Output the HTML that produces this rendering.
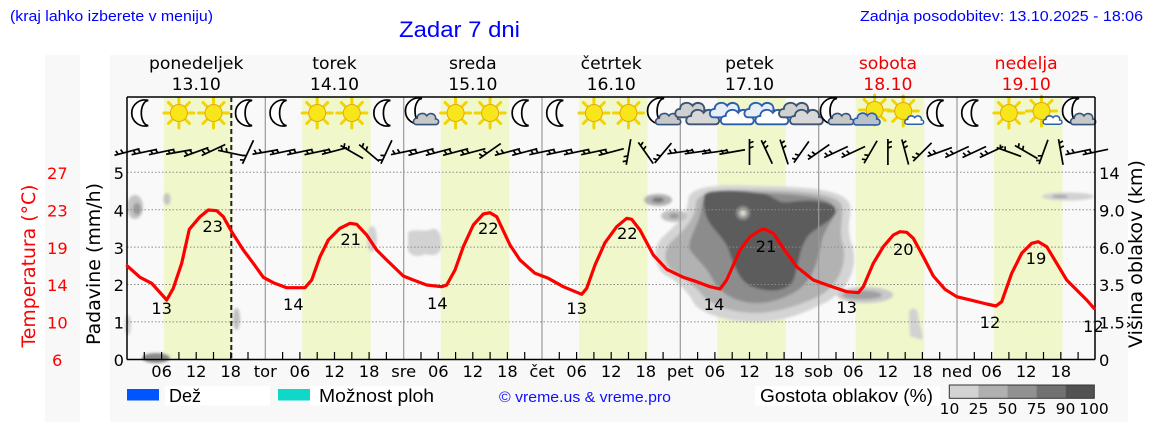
<!DOCTYPE html>
<html><head><meta charset="utf-8"><style>
html,body{margin:0;padding:0;background:#fff;}
svg{display:block;}
.d{font-family:"DejaVu Sans","Liberation Sans",sans-serif;}
.l{font-family:"Liberation Sans","DejaVu Sans",sans-serif;}
</style></head><body>
<svg width="1152" height="443" viewBox="0 0 1152 443" xmlns="http://www.w3.org/2000/svg">
<defs>
<filter id="bl" x="-20%" y="-20%" width="140%" height="140%"><feGaussianBlur stdDeviation="1.4"/></filter>
<path id="b" d="M-13 0H13M-9 0l-1.5 -4M-4 0l-1.5 -4" stroke="#000" stroke-width="1.7" fill="none"/>
<path id="moon" d="M4,-12.5 A13,13 0 1 0 4,12.5 A7,12.5 0 0 1 4,-12.5 Z" fill="#fff" stroke="#000" stroke-width="1.7"/>
<g id="sun"><g stroke="#f2d400" stroke-width="3" stroke-linecap="round">
<line x1="0" y1="-10" x2="0" y2="-15"/><line x1="0" y1="10" x2="0" y2="15"/><line x1="-10" y1="0" x2="-15" y2="0"/><line x1="10" y1="0" x2="15" y2="0"/>
<line x1="7" y1="7" x2="10.5" y2="10.5"/><line x1="-7" y1="7" x2="-10.5" y2="10.5"/><line x1="7" y1="-7" x2="10.5" y2="-10.5"/><line x1="-7" y1="-7" x2="-10.5" y2="-10.5"/></g>
<circle r="8.5" fill="#f7e61a" stroke="#e8a800" stroke-width="1"/></g>
<path id="cl" d="M-12,7 C-17,7 -17,-1 -11,-1 C-11,-7 -3,-9 1,-4 C4,-9 13,-7 12,0 C17,0 17,7 12,7 Z"/>
<g id="moonc"><use href="#moon" transform="translate(-3,-2)"/><use href="#cl" transform="translate(5,6) scale(0.8)" fill="#c8c8c8" stroke="#34527a" stroke-width="2"/></g>
<g id="cg"><use href="#cl" transform="translate(-6,-3) scale(1.05)" fill="#d0d0d0" stroke="#3d5570" stroke-width="1.8"/><use href="#cl" transform="translate(5,4) scale(1.05)" fill="#d8d8d8" stroke="#3d5570" stroke-width="1.8"/></g>
<g id="cb"><use href="#cl" transform="translate(-6,-3) scale(1.05)" fill="#e8eef8" stroke="#2a5fb0" stroke-width="1.8"/><use href="#cl" transform="translate(5,4) scale(1.05)" fill="#fff" stroke="#2a5fb0" stroke-width="1.8"/></g>
<g id="sunc"><use href="#sun" transform="translate(4,-3)"/><use href="#cl" transform="translate(-4,6) scale(0.85)" fill="#b8c0c8" stroke="#2a5fb0" stroke-width="2"/></g>
<g id="suns"><use href="#sun" transform="translate(-2,-2)"/><use href="#cl" transform="translate(9,7) scale(0.6)" fill="#fff" stroke="#2a5fb0" stroke-width="2.5"/></g>
</defs>

<!-- header -->
<text class="l" x="10" y="21" font-size="14.5" fill="#0000ff" textLength="203" lengthAdjust="spacingAndGlyphs">(kraj lahko izberete v meniju)</text>
<text class="l" x="399" y="37" font-size="22" fill="#0000ff" textLength="121" lengthAdjust="spacingAndGlyphs">Zadar 7 dni</text>
<text class="l" x="860" y="21" font-size="14.5" fill="#0000ff" textLength="283" lengthAdjust="spacingAndGlyphs">Zadnja posodobitev: 13.10.2025 - 18:06</text>

<!-- panels -->
<rect x="45" y="55" width="35" height="367" fill="#f8f8f8"/>
<rect x="110" y="55" width="1018" height="367" fill="#f8f8f8"/>
<rect x="127" y="97" width="968" height="262" fill="#f9f9f9"/>

<!-- daylight bands -->
<g fill="#eff7cb">
<rect x="164" y="97" width="68.5" height="262"/>
<rect x="302.3" y="97" width="68.5" height="262"/>
<rect x="440.7" y="97" width="68.5" height="262"/>
<rect x="579" y="97" width="68.5" height="262"/>
<rect x="717.3" y="97" width="68.5" height="262"/>
<rect x="855.7" y="97" width="68.5" height="262"/>
<rect x="994" y="97" width="68.5" height="262"/>
</g>

<!-- clouds -->
<g filter="url(#bl)">
<path fill="#d4d4d4" d="M 688,200 C 690,185 720,184 760,186 C 800,187 845,188 850,205 C 852,218 845,225 852,245 C 860,270 845,295 820,305 C 800,315 780,322 755,322 C 730,322 705,315 695,305 C 690,295 680,282 665,275 C 652,265 652,245 665,235 C 675,225 688,215 688,200 Z"/>
<path fill="#b2b2b2" d="M 696,203 C 698,190 725,189 760,190 C 800,191 838,193 842,206 C 844,218 838,228 843,245 C 848,268 835,290 815,298 C 795,307 775,313 755,313 C 735,313 712,306 703,296 C 696,287 685,278 672,270 C 662,262 664,248 673,240 C 684,230 696,218 696,203 Z"/>
<path fill="#8c8c8c" d="M 702,205 C 704,193 728,192 760,193 C 798,194 832,197 835,208 C 836,218 826,226 822,240 C 818,262 812,282 795,292 C 778,302 760,305 745,302 C 728,298 718,290 712,278 C 705,265 695,258 690,250 C 686,240 700,225 702,205 Z"/>
<path fill="#5c5c5c" d="M 705,194 C 710,189 740,190 765,194 C 775,197 778,204 790,202 C 810,199 834,201 836,210 C 837,219 818,226 808,236 C 798,249 798,272 792,283 C 783,293 765,292 750,286 C 738,279 733,262 728,248 C 722,235 710,228 706,215 C 703,205 703,199 705,194 Z"/>
<circle cx="743" cy="213" r="7" fill="#8a8a8a"/><circle cx="743" cy="213" r="4" fill="#bdbdbd"/><circle cx="743" cy="213" r="1.6" fill="#eeeebb"/>
<ellipse cx="658" cy="200" rx="14" ry="6" fill="#b0b0b0"/><ellipse cx="658" cy="200" rx="6" ry="2.5" fill="#777"/>
<ellipse cx="674" cy="216" rx="13" ry="6" fill="#c0c0c0"/><ellipse cx="674" cy="216" rx="5" ry="2.5" fill="#999"/>
<ellipse cx="865" cy="295" rx="28" ry="8" fill="#c8c8c8"/><ellipse cx="862" cy="295" rx="20" ry="4.5" fill="#a0a0a0"/>
<ellipse cx="135" cy="207" rx="8" ry="12" fill="#c4c4c4"/><ellipse cx="137" cy="209" rx="4" ry="6" fill="#9a9a9a"/>
<ellipse cx="167" cy="199" rx="3.5" ry="6" fill="#c4c4c4"/>
<ellipse cx="128" cy="325" rx="3" ry="10" fill="#cfcfcf"/>
<ellipse cx="156" cy="358" rx="14" ry="5" fill="#8a8a8a"/>
<ellipse cx="236.5" cy="319" rx="3.5" ry="11" fill="#c0c0c0"/>
<ellipse cx="372" cy="239" rx="5" ry="13" fill="#d2d2d2"/>
<path fill="#d2d2d2" d="M408,232 C415,228 425,233 432,229 C440,228 442,238 441,247 C440,256 432,256 425,254 C418,258 410,256 408,250 Z"/>
<path fill="#d2d2d2" d="M909,312 C912,306 918,308 918,316 C919,326 924,332 922,340 L910,336 Z"/>
<ellipse cx="1068" cy="196.5" rx="26" ry="4" fill="#d2d2d2"/><ellipse cx="1060" cy="196.5" rx="8" ry="1.8" fill="#a8a8a8"/>
</g>

<!-- grid -->
<g stroke="#8a8a8a" stroke-width="1" stroke-dasharray="1.5,2">
<line x1="127" y1="172.3" x2="1095" y2="172.3"/>
<line x1="127" y1="209.7" x2="1095" y2="209.7"/>
<line x1="127" y1="247.1" x2="1095" y2="247.1"/>
<line x1="127" y1="284.5" x2="1095" y2="284.5"/>
<line x1="127" y1="321.9" x2="1095" y2="321.9"/>
</g>
<g stroke="#9a9a9a" stroke-width="1.2">
<line x1="265.3" y1="97" x2="265.3" y2="359"/>
<line x1="403.7" y1="97" x2="403.7" y2="359"/>
<line x1="542" y1="97" x2="542" y2="359"/>
<line x1="680.3" y1="97" x2="680.3" y2="359"/>
<line x1="818.7" y1="97" x2="818.7" y2="359"/>
<line x1="957" y1="97" x2="957" y2="359"/>
</g>

<!-- icons -->
<g>
<use href="#moon" x="144.3" y="113"/><use href="#sun" x="178.9" y="113"/><use href="#sun" x="213.5" y="113"/><use href="#moon" x="248.1" y="113"/>
<use href="#moon" x="282.6" y="113"/><use href="#sun" x="317.2" y="113"/><use href="#sun" x="351.8" y="113"/><use href="#moon" x="386.4" y="113"/>
<use href="#moonc" x="421" y="113"/><use href="#sun" x="455.6" y="113"/><use href="#sun" x="490.1" y="113"/><use href="#moon" x="524.7" y="113"/>
<use href="#moon" x="559.3" y="113"/><use href="#sun" x="593.9" y="113"/><use href="#sun" x="628.5" y="113"/><use href="#moonc" x="663.1" y="113"/>
<use href="#cg" x="697.6" y="113"/><use href="#cb" x="732.2" y="113"/><use href="#cb" x="766.8" y="113"/><use href="#cg" x="801.4" y="113"/>
<use href="#moonc" x="836" y="113"/><use href="#sunc" x="870.6" y="113"/><use href="#suns" x="905.2" y="113"/><use href="#moon" x="939.7" y="113"/>
<use href="#moon" x="974.3" y="113"/><use href="#sun" x="1008.9" y="113"/><use href="#suns" x="1043.5" y="113"/><use href="#moonc" x="1078.1" y="113"/>
</g>

<!-- wind barbs -->
<g>
<use href="#b" transform="translate(127,152) rotate(-15)"/>
<use href="#b" transform="translate(144.3,152) rotate(-12)"/>
<use href="#b" transform="translate(161.6,152) rotate(-12)"/>
<use href="#b" transform="translate(178.9,152) rotate(-10)"/>
<use href="#b" transform="translate(196.2,152) rotate(-20)"/>
<use href="#b" transform="translate(213.5,150) rotate(-25)"/>
<use href="#b" transform="translate(230.8,153) rotate(12)"/>
<use href="#b" transform="translate(248,152) rotate(-65)"/>
<use href="#b" transform="translate(265.3,152) rotate(-10)"/>
<use href="#b" transform="translate(282.6,152) rotate(-12)"/>
<use href="#b" transform="translate(299.9,152) rotate(-12)"/>
<use href="#b" transform="translate(317.2,152) rotate(-12)"/>
<use href="#b" transform="translate(334.5,151) rotate(-15)"/>
<use href="#b" transform="translate(351.8,152) rotate(30)"/>
<use href="#b" transform="translate(369.1,153) rotate(40)"/>
<use href="#b" transform="translate(386.4,152) rotate(-65)"/>
<use href="#b" transform="translate(403.7,152) rotate(-12)"/>
<use href="#b" transform="translate(421,152) rotate(-15)"/>
<use href="#b" transform="translate(438.3,152) rotate(-15)"/>
<use href="#b" transform="translate(455.6,152) rotate(-15)"/>
<use href="#b" transform="translate(472.8,152) rotate(-15)"/>
<use href="#b" transform="translate(490.1,151) rotate(-35)"/>
<use href="#b" transform="translate(507.4,152) rotate(-15)"/>
<use href="#b" transform="translate(524.7,152) rotate(-15)"/>
<use href="#b" transform="translate(542,152) rotate(-12)"/>
<use href="#b" transform="translate(559.3,152) rotate(-12)"/>
<use href="#b" transform="translate(576.6,152) rotate(-12)"/>
<use href="#b" transform="translate(593.9,152) rotate(-12)"/>
<use href="#b" transform="translate(611.2,152) rotate(-15)"/>
<use href="#b" transform="translate(628.5,152) rotate(-80)"/>
<use href="#b" transform="translate(645.8,153) rotate(55)"/>
<use href="#b" transform="translate(663.1,153) rotate(-50)"/>
<use href="#b" transform="translate(680.3,152) rotate(-8)"/>
<use href="#b" transform="translate(697.6,152) rotate(-8)"/>
<use href="#b" transform="translate(714.9,152) rotate(-8)"/>
<use href="#b" transform="translate(732.2,152) rotate(-10)"/>
<use href="#b" transform="translate(749.5,152) rotate(90)"/>
<use href="#b" transform="translate(766.8,152) rotate(65)"/>
<use href="#b" transform="translate(784.1,152) rotate(72)"/>
<use href="#b" transform="translate(801.4,152) rotate(-55)"/>
<use href="#b" transform="translate(818.7,152) rotate(-35)"/>
<use href="#b" transform="translate(836,152) rotate(-25)"/>
<use href="#b" transform="translate(853.3,152) rotate(-25)"/>
<use href="#b" transform="translate(870.6,152) rotate(-60)"/>
<use href="#b" transform="translate(887.9,152) rotate(90)"/>
<use href="#b" transform="translate(905.2,152) rotate(75)"/>
<use href="#b" transform="translate(922.4,152) rotate(-45)"/>
<use href="#b" transform="translate(939.7,152) rotate(-20)"/>
<use href="#b" transform="translate(957,152) rotate(-25)"/>
<use href="#b" transform="translate(974.3,152) rotate(-25)"/>
<use href="#b" transform="translate(991.6,152) rotate(-25)"/>
<use href="#b" transform="translate(1008.9,152) rotate(20)"/>
<use href="#b" transform="translate(1026.2,152) rotate(30)"/>
<use href="#b" transform="translate(1043.5,152) rotate(-70)"/>
<use href="#b" transform="translate(1060.8,152) rotate(80)"/>
<use href="#b" transform="translate(1078.1,152) rotate(-12)"/>
<use href="#b" transform="translate(1095.4,152) rotate(-12)"/>
</g>

<!-- axes -->
<g stroke="#000" stroke-width="1.5" fill="none">
<line x1="127" y1="97" x2="1095" y2="97"/>
<line x1="127" y1="97" x2="127" y2="359.5"/>
<line x1="1095" y1="97" x2="1095" y2="359.5"/>
<line x1="127" y1="359.5" x2="1095" y2="359.5"/>
</g>
<line x1="231.3" y1="97" x2="231.3" y2="359" stroke="#222" stroke-width="2" stroke-dasharray="5,3"/>
<g stroke="#000" stroke-width="1.2">
<line x1="144.3" y1="359" x2="144.3" y2="352"/><line x1="161.6" y1="359" x2="161.6" y2="352"/><line x1="178.9" y1="359" x2="178.9" y2="352"/><line x1="196.2" y1="359" x2="196.2" y2="352"/><line x1="213.5" y1="359" x2="213.5" y2="352"/><line x1="230.8" y1="359" x2="230.8" y2="352"/><line x1="248" y1="359" x2="248" y2="352"/>
<line x1="282.6" y1="359" x2="282.6" y2="352"/><line x1="299.9" y1="359" x2="299.9" y2="352"/><line x1="317.2" y1="359" x2="317.2" y2="352"/><line x1="334.5" y1="359" x2="334.5" y2="352"/><line x1="351.8" y1="359" x2="351.8" y2="352"/><line x1="369.1" y1="359" x2="369.1" y2="352"/><line x1="386.4" y1="359" x2="386.4" y2="352"/>
<line x1="421" y1="359" x2="421" y2="352"/><line x1="438.3" y1="359" x2="438.3" y2="352"/><line x1="455.6" y1="359" x2="455.6" y2="352"/><line x1="472.8" y1="359" x2="472.8" y2="352"/><line x1="490.1" y1="359" x2="490.1" y2="352"/><line x1="507.4" y1="359" x2="507.4" y2="352"/><line x1="524.7" y1="359" x2="524.7" y2="352"/>
<line x1="559.3" y1="359" x2="559.3" y2="352"/><line x1="576.6" y1="359" x2="576.6" y2="352"/><line x1="593.9" y1="359" x2="593.9" y2="352"/><line x1="611.2" y1="359" x2="611.2" y2="352"/><line x1="628.5" y1="359" x2="628.5" y2="352"/><line x1="645.8" y1="359" x2="645.8" y2="352"/><line x1="663.1" y1="359" x2="663.1" y2="352"/>
<line x1="697.6" y1="359" x2="697.6" y2="352"/><line x1="714.9" y1="359" x2="714.9" y2="352"/><line x1="732.2" y1="359" x2="732.2" y2="352"/><line x1="749.5" y1="359" x2="749.5" y2="352"/><line x1="766.8" y1="359" x2="766.8" y2="352"/><line x1="784.1" y1="359" x2="784.1" y2="352"/><line x1="801.4" y1="359" x2="801.4" y2="352"/>
<line x1="836" y1="359" x2="836" y2="352"/><line x1="853.3" y1="359" x2="853.3" y2="352"/><line x1="870.6" y1="359" x2="870.6" y2="352"/><line x1="887.9" y1="359" x2="887.9" y2="352"/><line x1="905.2" y1="359" x2="905.2" y2="352"/><line x1="922.4" y1="359" x2="922.4" y2="352"/><line x1="939.7" y1="359" x2="939.7" y2="352"/>
<line x1="974.3" y1="359" x2="974.3" y2="352"/><line x1="991.6" y1="359" x2="991.6" y2="352"/><line x1="1008.9" y1="359" x2="1008.9" y2="352"/><line x1="1026.2" y1="359" x2="1026.2" y2="352"/><line x1="1043.5" y1="359" x2="1043.5" y2="352"/><line x1="1060.8" y1="359" x2="1060.8" y2="352"/><line x1="1078.1" y1="359" x2="1078.1" y2="352"/>
</g>

<!-- temperature line -->
<polyline fill="none" stroke="#ff0000" stroke-width="3.2" stroke-linejoin="round" stroke-linecap="round" points="127.3,266 140,277.3 151.7,283.3 166.7,300 173.3,288.3 181.7,263.3 189.3,229.3 200,216.7 208.3,210 216.7,210.7 223.3,216.7 231.7,231.7 243.3,250 253.3,263.3 263.3,277.3 273.3,282.7 286.7,287.7 305,287.7 311.7,280 320,256.7 328.3,240 340,228.3 350,223.3 356.7,224.3 366.7,235 376.7,250 386.7,260 403.3,276 413.3,280 426.7,285 441.7,286.7 446.7,285 455,270 463.3,246.7 473.3,225 483.3,214 490,212.7 496.7,216.7 510,245 520,260 535,273.3 548.3,278.3 563.3,286.7 581.7,294.3 586.7,288.3 595,265 605,242.7 616.7,226.7 626.7,218.3 631.7,219.3 640,230 653.3,255 666.7,269.3 683.3,277.3 696.7,281.7 710,286.7 720,289 726.7,280 740,250 750,236.7 761.7,229.3 765,229.3 773.3,233.3 783.3,248.3 796.7,266.7 813.3,280 830,286 846.7,291.7 858.3,292.7 863.3,286.7 873.3,263.3 883.3,246.7 893.3,235 900,231.7 906.7,232.3 913.3,238.3 923.3,256.7 933.3,276 945,289.3 956.7,296.7 973.3,300.7 986.7,304 996,306 1001.7,301.7 1011.7,273.3 1021.7,253.3 1031.7,243.3 1038.3,241.7 1046.7,246.7 1056.7,263.3 1066.7,280 1076.7,290 1086.7,300 1094,308.3"/>

<!-- temperature labels -->
<g class="d" font-size="16.3" fill="#000" text-anchor="middle">
<text x="161.7" y="314">13</text><text x="212.7" y="232">23</text>
<text x="293.3" y="310">14</text><text x="350.7" y="245">21</text>
<text x="437.3" y="309">14</text><text x="488.3" y="234">22</text>
<text x="576.7" y="314">13</text><text x="627.3" y="239">22</text>
<text x="714" y="310">14</text><text x="766" y="252">21</text>
<text x="846.7" y="313">13</text><text x="903.3" y="255">20</text>
<text x="990" y="328">12</text><text x="1036" y="264">19</text>
<text x="1093.3" y="332">12</text>
</g>

<!-- day headers -->
<g class="d" font-size="17.2" text-anchor="middle" fill="#000">
<text x="196.2" y="69">ponedeljek</text><text x="196.2" y="90">13.10</text>
<text x="334.5" y="69">torek</text><text x="334.5" y="90">14.10</text>
<text x="472.8" y="69">sreda</text><text x="472.8" y="90">15.10</text>
<text x="611.2" y="69">četrtek</text><text x="611.2" y="90">16.10</text>
<text x="749.5" y="69">petek</text><text x="749.5" y="90">17.10</text>
<text x="887.9" y="69" fill="#ee0000">sobota</text><text x="887.9" y="90" fill="#ee0000">18.10</text>
<text x="1026.2" y="69" fill="#ee0000">nedelja</text><text x="1026.2" y="90" fill="#ee0000">19.10</text>
</g>

<!-- x tick labels -->
<g class="d" font-size="16.3" text-anchor="middle" fill="#000">
<text x="161.6" y="377">06</text><text x="196.2" y="377">12</text><text x="230.7" y="377">18</text>
<text x="265.3" y="377">tor</text><text x="299.9" y="377">06</text><text x="334.5" y="377">12</text><text x="369.1" y="377">18</text>
<text x="403.7" y="377">sre</text><text x="438.3" y="377">06</text><text x="472.8" y="377">12</text><text x="507.4" y="377">18</text>
<text x="542" y="377">čet</text><text x="576.6" y="377">06</text><text x="611.2" y="377">12</text><text x="645.8" y="377">18</text>
<text x="680.3" y="377">pet</text><text x="714.9" y="377">06</text><text x="749.5" y="377">12</text><text x="784.1" y="377">18</text>
<text x="818.7" y="377">sob</text><text x="853.3" y="377">06</text><text x="887.9" y="377">12</text><text x="922.4" y="377">18</text>
<text x="957" y="377">ned</text><text x="991.6" y="377">06</text><text x="1026.2" y="377">12</text><text x="1060.8" y="377">18</text>
</g>

<!-- left axes -->
<g class="d" font-size="16.3" fill="#ff0000">
<text x="47" y="179">27</text><text x="47" y="216.5">23</text><text x="47" y="254">19</text><text x="47" y="291">14</text><text x="47" y="328.5">10</text><text x="52" y="366">6</text>
</g>
<g class="d" font-size="16.3" fill="#000" text-anchor="end">
<text x="124" y="179">5</text><text x="124" y="216.5">4</text><text x="124" y="254">3</text><text x="124" y="291">2</text><text x="124" y="328.5">1</text><text x="124" y="366">0</text>
</g>
<g class="d" font-size="16.3" fill="#000">
<text x="1099" y="179">14</text><text x="1099" y="216.5">9.0</text><text x="1099" y="254">6.0</text><text x="1099" y="291">3.5</text><text x="1099" y="328.5">1.5</text><text x="1099" y="366">0</text>
</g>
<text class="d" transform="translate(35,266) rotate(-90)" font-size="19" fill="#ff0000" text-anchor="middle" textLength="163" lengthAdjust="spacingAndGlyphs">Temperatura (°C)</text>
<text class="d" transform="translate(100,264) rotate(-90)" font-size="19" fill="#000" text-anchor="middle" textLength="162" lengthAdjust="spacingAndGlyphs">Padavine (mm/h)</text>
<text class="d" transform="translate(1142,254) rotate(-90)" font-size="19" fill="#000" text-anchor="middle" textLength="188" lengthAdjust="spacingAndGlyphs">Višina oblakov (km)</text>

<!-- legend -->
<rect x="127" y="389" width="32" height="11.5" fill="#0055ff"/>
<rect x="165" y="386" width="105" height="19.5" fill="#fff"/>
<text class="l" x="169" y="402" font-size="18" fill="#000">Dež</text>
<rect x="278" y="389" width="32" height="11.5" fill="#10d8c8"/>
<rect x="310" y="386" width="118" height="19.5" fill="#fff"/>
<text class="l" x="319" y="402" font-size="18" fill="#000" textLength="115" lengthAdjust="spacingAndGlyphs">Možnost ploh</text>
<text class="l" x="499" y="402" font-size="15" fill="#1010ff" textLength="172" lengthAdjust="spacingAndGlyphs">© vreme.us &amp; vreme.pro</text>
<rect x="755" y="386" width="185" height="19.5" fill="#fff"/>
<text class="l" x="760" y="402" font-size="18" fill="#000" textLength="173" lengthAdjust="spacingAndGlyphs">Gostota oblakov (%)</text>
<g stroke="none">
<rect x="949.3" y="385" width="29" height="13.3" fill="#d2d2d2"/>
<rect x="978.3" y="385" width="29" height="13.3" fill="#b0b0b0"/>
<rect x="1007.3" y="385" width="29" height="13.3" fill="#919191"/>
<rect x="1036.3" y="385" width="29" height="13.3" fill="#717171"/>
<rect x="1065.3" y="385" width="29" height="13.3" fill="#525252"/>
</g>
<rect x="949.3" y="385" width="145" height="13.3" fill="none" stroke="#333" stroke-width="1"/>
<g class="d" font-size="15.5" fill="#000" text-anchor="middle">
<text x="949.5" y="414">10</text><text x="978.5" y="414">25</text><text x="1007.5" y="414">50</text><text x="1036.5" y="414">75</text><text x="1065.5" y="414">90</text><text x="1094" y="414">100</text>
</g>
</svg>
</body></html>
